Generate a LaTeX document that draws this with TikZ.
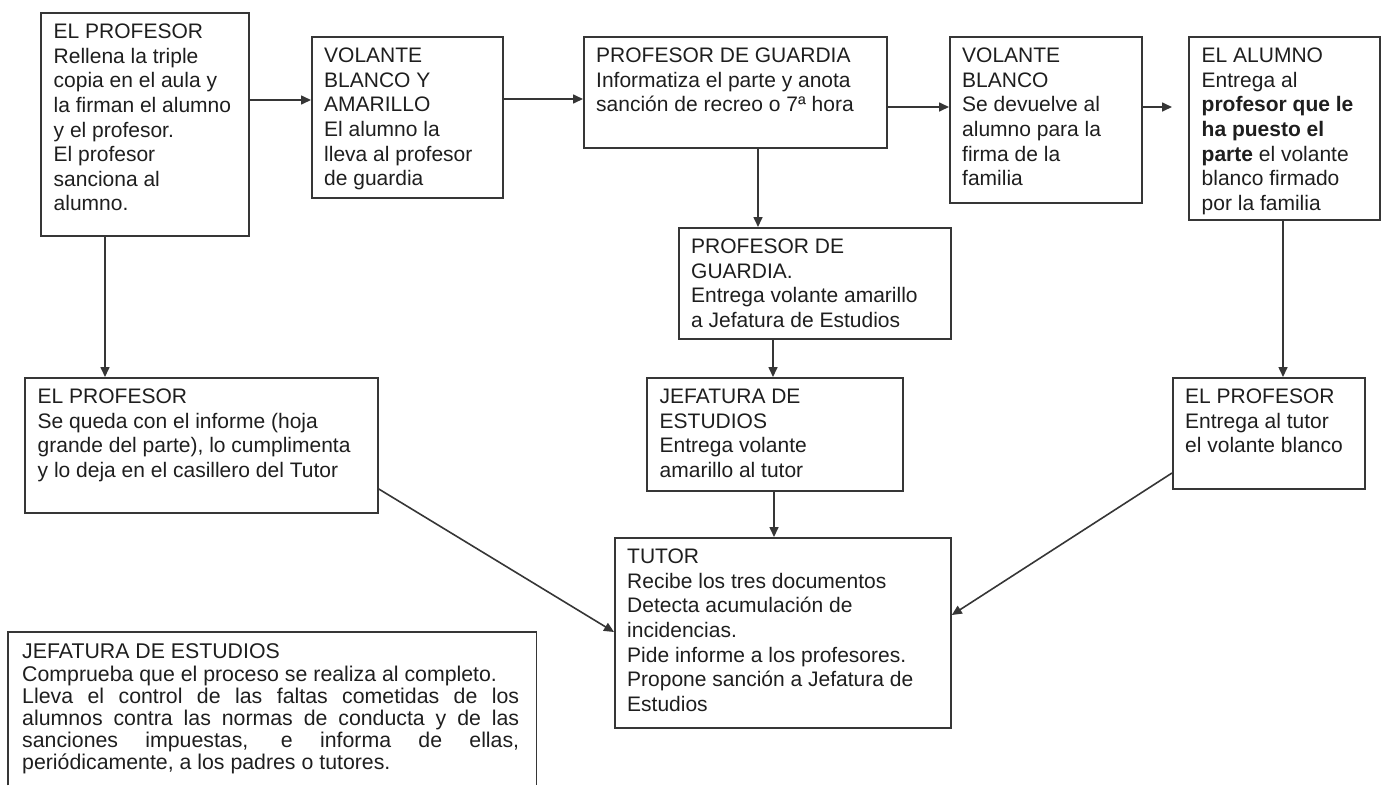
\documentclass[tikz,border=0pt]{standalone}
\usepackage{fontspec}
\setmainfont{Liberation Sans}
\usetikzlibrary{arrows.meta,positioning}
\definecolor{edge}{HTML}{363636}
\definecolor{ink}{HTML}{1E1E1E}
\tikzset{
  box/.style={draw=edge, line width=1.8pt, fill=none, inner sep=0pt, anchor=north west},
  txt/.style={anchor=north west, inner sep=0pt, align=left, text=ink,
    font=\fontsize{21}{24.6}\selectfont},
  txtj/.style={anchor=north west, inner sep=0pt, align=left, text=ink,
    font=\fontsize{21.3}{22}\selectfont},
  arr/.style={draw=edge, line width=1.6pt, -{Triangle[length=10pt,width=9pt]}},
}
\begin{document}
\begin{tikzpicture}[x=1pt,y=-1pt]
\useasboundingbox (0,0) rectangle (1386,785);
% boxes
\node[box, minimum width=208pt, minimum height=223pt] (b1) at (40,12) {};
\node[box, minimum width=191pt, minimum height=161pt] (b2) at (311,36) {};
\node[box, minimum width=303pt, minimum height=111pt] (b3) at (583,36) {};
\node[box, minimum width=192pt, minimum height=166pt] (b4) at (949,36) {};
\node[box, minimum width=191pt, minimum height=183pt] (b5) at (1188,36) {};
\node[box, minimum width=272pt, minimum height=111pt] (b6) at (678,227) {};
\node[box, minimum width=256pt, minimum height=113pt] (b7) at (646,377) {};
\node[box, minimum width=336pt, minimum height=190pt] (b8) at (614,537) {};
\node[box, minimum width=353pt, minimum height=135pt] (b9) at (24,377) {};
\node[box, minimum width=192pt, minimum height=111pt] (b10) at (1172,377) {};
\node[anchor=north west, inner sep=0pt, minimum width=528pt, minimum height=153pt] (b11) at (8,632) {};
\draw[edge, line width=1.8pt] (b11.south west) -- (b11.north west) -- (b11.north east) -- (b11.south east);
% texts
\node[txt] (t1) at ([shift={(13.5,9.3)}]b1.north west) {\strut EL PROFESOR\\Rellena la triple\\copia en el aula y\\la firman el alumno\\y el profesor.\\El profesor\\sanciona al\\alumno.};
\node[txt] (t2) at ([shift={(13,9.3)}]b2.north west) {\strut VOLANTE\\BLANCO Y\\AMARILLO\\El alumno la\\lleva al profesor\\de guardia};
\node[txt] (t3) at ([shift={(13,9.3)}]b3.north west) {\strut PROFESOR DE GUARDIA\\Informatiza el parte y anota\\sanción de recreo o 7ª hora};
\node[txt] (t4) at ([shift={(13,9.3)}]b4.north west) {\strut VOLANTE\\BLANCO\\Se devuelve al\\alumno para la\\firma de la\\familia};
\node[txt] (t5) at ([shift={(13.5,9.3)}]b5.north west) {\strut EL ALUMNO\\Entrega al\\\textbf{profesor que le}\\\textbf{ha puesto el}\\\textbf{parte} el volante\\blanco firmado\\por la familia};
\node[txt] (t6) at ([shift={(13,9.3)}]b6.north west) {\strut PROFESOR DE\\GUARDIA.\\Entrega volante amarillo\\a Jefatura de Estudios};
\node[txt] (t7) at ([shift={(13.5,9.3)}]b7.north west) {\strut JEFATURA DE\\ESTUDIOS\\Entrega volante\\amarillo al tutor};
\node[txt] (t8) at ([shift={(13,9.3)}]b8.north west) {\strut TUTOR\\Recibe los tres documentos\\Detecta acumulación de\\incidencias.\\Pide informe a los profesores.\\Propone sanción a Jefatura de\\Estudios};
\node[txt] (t9) at ([shift={(13.5,9.3)}]b9.north west) {\strut EL PROFESOR\\Se queda con el informe (hoja\\grande del parte), lo cumplimenta\\y lo deja en el casillero del Tutor};
\node[txt] (t10) at ([shift={(13,9.3)}]b10.north west) {\strut EL PROFESOR\\Entrega al tutor\\el volante blanco};
\node[txtj] (t11) at ([shift={(14,10.6)}]b11.north west) {\strut JEFATURA DE ESTUDIOS\\Comprueba que el proceso se realiza al completo.\\\makebox[497pt][s]{Lleva el control de las faltas cometidas de los}\\\makebox[497pt][s]{alumnos contra las normas de conducta y de las}\\\makebox[497pt][s]{sanciones impuestas, e informa de ellas,}\\periódicamente, a los padres o tutores.};
% connectors
\coordinate (e45) at (1172,107);
\draw[arr] (b1.east |- 0,100) -- (b2.west |- 0,100);
\draw[arr] (b2.east |- 0,99) -- (b3.west |- 0,99);
\draw[arr] (b3.east |- 0,107) -- (b4.west |- 0,107);
\draw[arr] (b4.east |- e45) -- (e45);
\draw[arr] (105,0 |- b1.south) -- (105,0 |- b9.north);
\draw[arr] (758,0 |- b3.south) -- (758,0 |- b6.north);
\draw[arr] (773,0 |- b6.south) -- (773,0 |- b7.north);
\draw[arr] (774,0 |- b7.south) -- (774,0 |- b8.north);
\draw[arr] (1283,0 |- b5.south) -- (1283,0 |- b10.north);
\draw[arr] (b9.east |- 0,489) -- (b8.west |- 0,632);
\draw[arr] (b10.west |- 0,473) -- (b8.east |- 0,615);
\end{tikzpicture}
\end{document}
